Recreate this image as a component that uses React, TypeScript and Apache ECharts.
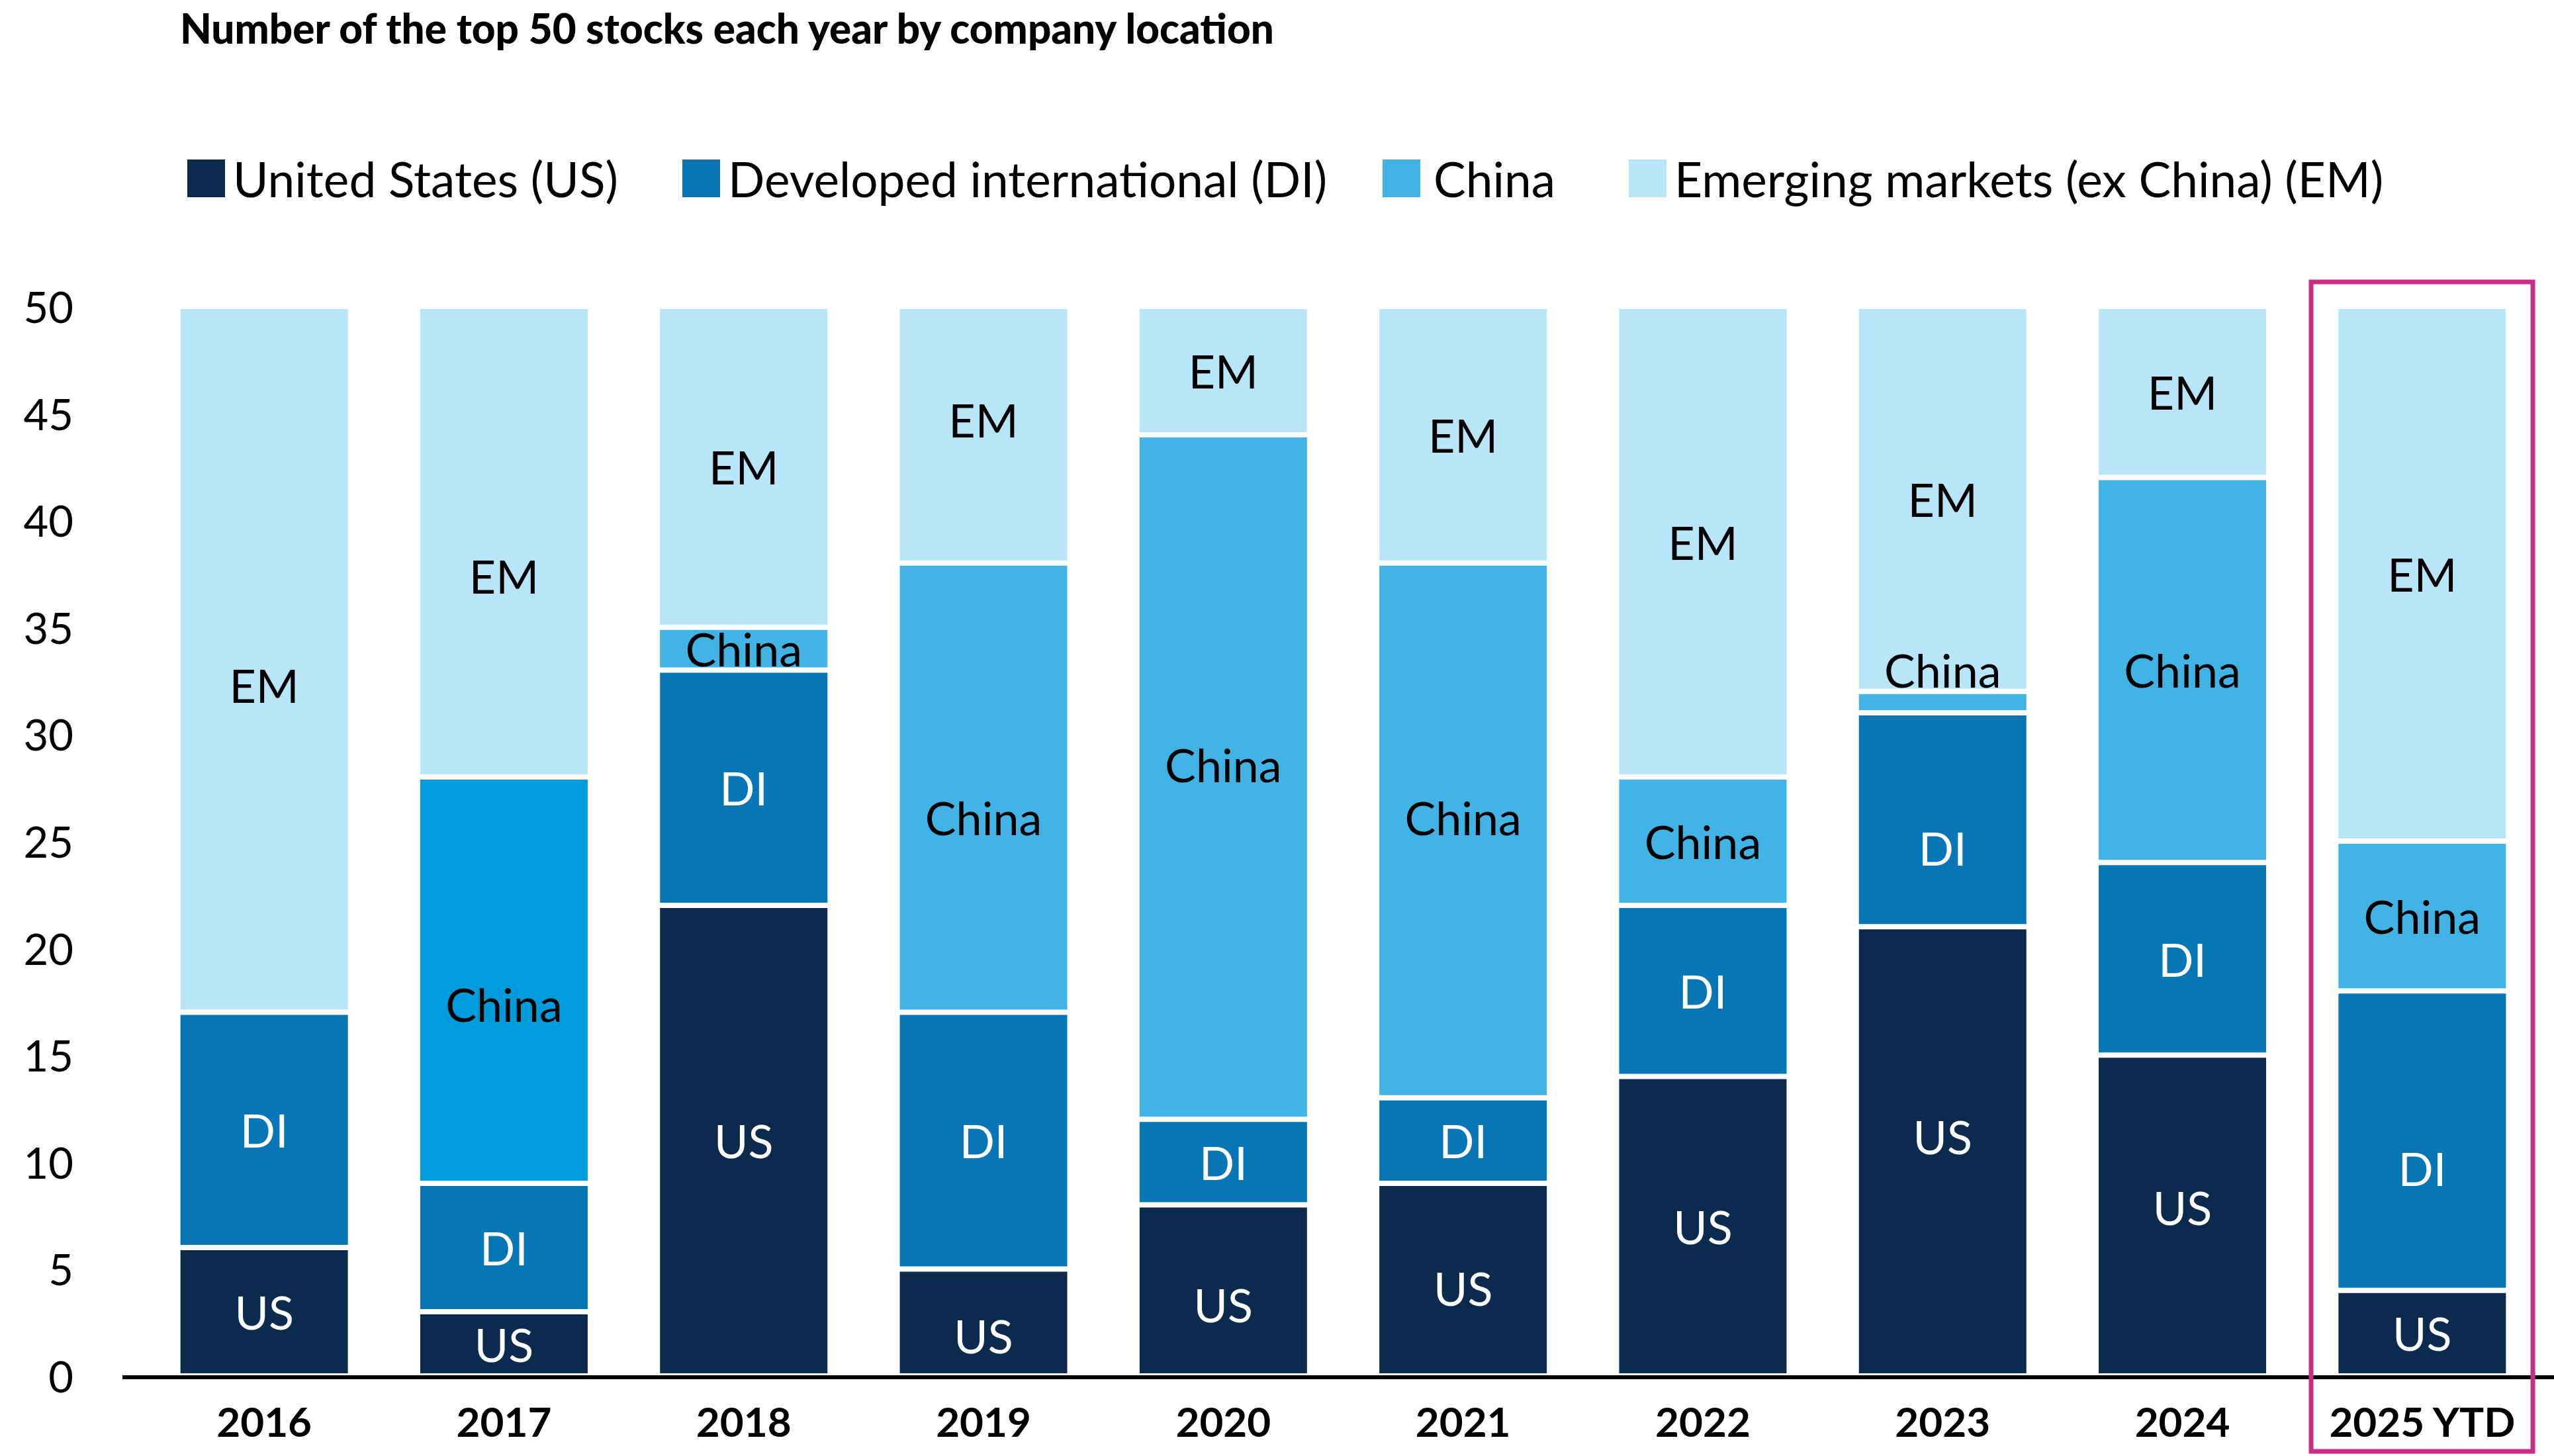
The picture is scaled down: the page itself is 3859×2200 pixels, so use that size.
import React, { useEffect, useRef } from "react";
import * as echarts from "echarts";

const categories = ["2016", "2017", "2018", "2019", "2020", "2021", "2022", "2023", "2024", "2025 YTD"];
const usValues = [6, 3, 22, 5, 8, 9, 14, 21, 15, 4];
const diValues = [11, 6, 11, 12, 4, 4, 8, 10, 9, 14];
const chinaValues = [0, 19, 2, 21, 32, 25, 6, 1, 18, 7];
const emValues = [33, 22, 15, 12, 6, 12, 22, 18, 8, 25];
const yTicks = [0, 5, 10, 15, 20, 25, 30, 35, 40, 45, 50];

// label nudges in axis units (positive = up), style only
const usShift = [0, 0, 0, -0.6, -0.65, -0.4, 0, 0.7, 0.4, 0];
const diShift = [0, 0, 0, 0, 0, 0, 0, -1.3, 0, -1.3];
const chinaShift = [0, -1.1, 0, -1.4, 0.6, 0.6, 0, 1.5, 0, 0];
const emShift = [-1.2, -1.6, 0, 0.7, 0, 0, 0, 0, 0, 0];

const W = 3859;
const H = 2200;
const GRID_LEFT = 218;
const GRID_RIGHT = 18;
const GRID_TOP = 463;
const GRID_BOTTOM = 121;
const FONT = "Lato, 'Noto Sans', sans-serif";

const C_US = "#0C2A4D";
const C_DI = "#0776B5";
const C_CN = "#42B3E5";
const C_CN17 = "#009BDB";
const C_EM = "#B9E5F9";

export default function App() {
  const ref = useRef<HTMLDivElement>(null);
  useEffect(() => {
    if (!ref.current) return;
    const chart = echarts.init(ref.current, null, { renderer: "svg" });
    const unitPx = (H - GRID_TOP - GRID_BOTTOM) / 50;

    const mk = (
      name: string,
      values: number[],
      shifts: number[],
      color: string,
      labelColor: string,
      short: string,
      override?: (i: number) => any
    ) => ({
      name,
      type: "bar",
      stack: "total",
      barWidth: 261,
      itemStyle: { color, borderColor: "#ffffff", borderWidth: 4 },
      label: {
        show: true,
        position: "inside",
        color: labelColor,
        fontFamily: FONT,
        fontSize: 70,
        formatter: (p: any) => (p.value ? short : ""),
      },
      emphasis: { disabled: true },
      data: values.map((v, i) => {
        const item: any = { value: v };
        if (shifts[i]) item.label = { offset: [0, -shifts[i] * unitPx] };
        const o = override ? override(i) : null;
        if (o) Object.assign(item, o);
        return item;
      }),
    });

    const legendItem = (name: string, left: number, pad: number) => ({
      left,
      top: 228,
      itemWidth: 59,
      itemHeight: 59,
      itemGap: 0,
      icon: "rect",
      data: [name],
      selectedMode: false,
      textStyle: { fontFamily: FONT, fontSize: 73, color: "#000", padding: [0, 0, 0, pad] },
    });

    chart.setOption({
      animation: false,
      backgroundColor: "#ffffff",
      title: {
        text: "Number of the top 50 stocks each year by company location",
        left: 272,
        top: 10,
        padding: 0,
        textStyle: { fontFamily: FONT, fontWeight: 900, fontSize: 62, lineHeight: 64, color: "#000" },
      },
      legend: [
        legendItem("United States (US)", 276, 6),
        legendItem("Developed international (DI)", 1024, 6),
        legendItem("China", 2082, 14),
        legendItem("Emerging markets (ex China) (EM)", 2454, 6),
      ],
      grid: { left: GRID_LEFT, right: GRID_RIGHT, top: GRID_TOP, bottom: GRID_BOTTOM, containLabel: false },
      xAxis: {
        type: "category",
        data: categories,
        axisLine: { show: false },
        axisTick: { show: false },
        axisLabel: {
          interval: 0,
          fontFamily: FONT,
          fontWeight: "bold",
          fontSize: 62,
          color: "#000",
          margin: 37,
        },
      },
      yAxis: {
        type: "value",
        min: yTicks[0],
        max: yTicks[yTicks.length - 1],
        interval: 5,
        splitLine: { show: false },
        axisLine: { show: false },
        axisTick: { show: false },
        axisLabel: { fontFamily: FONT, fontSize: 65, color: "#000", margin: 107 },
      },
      graphic: [
        {
          type: "line",
          z: 100,
          shape: { x1: 185, y1: 2081, x2: W, y2: 2081 },
          style: { stroke: "#000", lineWidth: 6 },
        },
        {
          type: "rect",
          z: 100,
          shape: { x: 3492, y: 426, width: 335, height: 1767 },
          style: { fill: "none", stroke: "#CC2C86", lineWidth: 7 },
        },
      ],
      series: [
        mk("United States (US)", usValues, usShift, C_US, "#ffffff", "US"),
        mk("Developed international (DI)", diValues, diShift, C_DI, "#ffffff", "DI"),
        mk("China", chinaValues, chinaShift, C_CN, "#000000", "China", (i) =>
          i === 1 ? { itemStyle: { color: C_CN17 } } : null
        ),
        mk("Emerging markets (ex China) (EM)", emValues, emShift, C_EM, "#000000", "EM"),
      ],
    });
    return () => chart.dispose();
  }, []);
  return (
    <div
      ref={ref}
      style={{ position: "fixed", left: 0, top: 0, width: W + "px", height: H + "px", background: "#fff" }}
    />
  );
}
